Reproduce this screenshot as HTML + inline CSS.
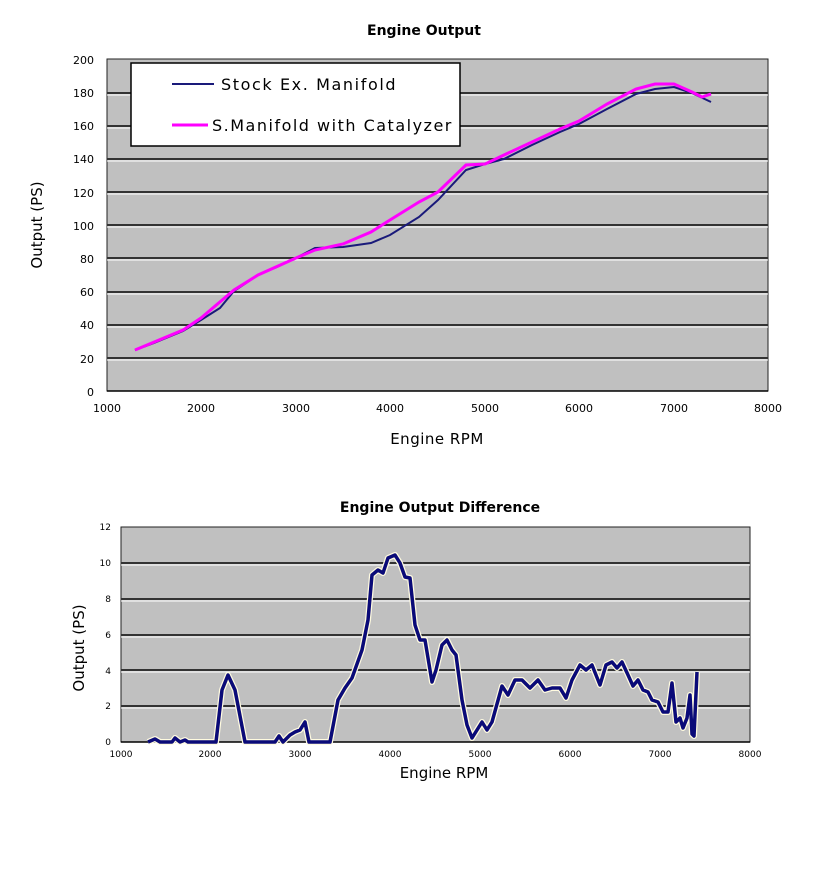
<!DOCTYPE html><html><head><style>body{margin:0;background:#fff}</style></head><body>
<svg width="815" height="876" xmlns="http://www.w3.org/2000/svg" font-family="DejaVu Sans, sans-serif">
<rect width="815" height="876" fill="#fff"/>
<text x="424" y="35" font-size="14" font-weight="bold" text-anchor="middle">Engine Output</text>
<rect x="107" y="59" width="661" height="332" fill="#c0c0c0" stroke="#222" stroke-width="1"/>
<g stroke="#333" stroke-width="2">
<line x1="107" x2="768" y1="93" y2="93"/><line x1="107" x2="768" y1="126" y2="126"/><line x1="107" x2="768" y1="159" y2="159"/><line x1="107" x2="768" y1="192" y2="192"/><line x1="107" x2="768" y1="225" y2="225"/><line x1="107" x2="768" y1="258" y2="258"/><line x1="107" x2="768" y1="292" y2="292"/><line x1="107" x2="768" y1="325" y2="325"/><line x1="107" x2="768" y1="358" y2="358"/></g>
<g stroke="#fff" stroke-width="1"><line x1="107" x2="768" y1="95" y2="95"/><line x1="107" x2="768" y1="128" y2="128"/><line x1="107" x2="768" y1="161" y2="161"/><line x1="107" x2="768" y1="194" y2="194"/><line x1="107" x2="768" y1="227" y2="227"/><line x1="107" x2="768" y1="260" y2="260"/><line x1="107" x2="768" y1="294" y2="294"/><line x1="107" x2="768" y1="327" y2="327"/><line x1="107" x2="768" y1="360" y2="360"/></g>
<line x1="107" x2="768" y1="391" y2="391" stroke="#000" stroke-width="1.5"/>
<g font-size="11" text-anchor="end"><text x="94" y="64">200</text><text x="94" y="97">180</text><text x="94" y="130">160</text><text x="94" y="163">140</text><text x="94" y="197">120</text><text x="94" y="230">100</text><text x="94" y="263">80</text><text x="94" y="296">60</text><text x="94" y="329">40</text><text x="94" y="363">20</text><text x="94" y="396">0</text></g>
<g font-size="11" text-anchor="middle"><text x="107" y="412">1000</text><text x="201" y="412">2000</text><text x="296" y="412">3000</text><text x="390" y="412">4000</text><text x="485" y="412">5000</text><text x="579" y="412">6000</text><text x="674" y="412">7000</text><text x="768" y="412">8000</text></g>
<text x="437" y="444" font-size="15" text-anchor="middle" letter-spacing="0.5">Engine RPM</text>
<text transform="translate(42,225) rotate(-90)" font-size="15" text-anchor="middle">Output (PS)</text>
<polyline fill="none" stroke="#1a1a7a" stroke-width="2" points="135,350 154,343 183,331 201,320 220,308 234,291 258,275 277,267 296,258 315,248 343,247 371,243 390,235 419,217 438,200 466,170 485,164 504,159 532,145 560,132 579,124 607,109 636,94 655,89 674,87 692,93 711,102"/>
<polyline fill="none" stroke="#ff00ff" stroke-width="3" points="135,350 183,330 201,318 234,290 258,275 296,258 315,250 343,244 371,232 390,220 419,202 438,192 466,165 485,164 504,155 532,142 560,129 579,121 607,104 636,89 655,84 674,84 692,92 702,97 711,94"/>
<rect x="131" y="63" width="329" height="83" fill="#fff" stroke="#000" stroke-width="1.5"/>
<line x1="172" x2="214" y1="84" y2="84" stroke="#1a1a7a" stroke-width="2"/>
<text x="221" y="90" font-size="16" letter-spacing="1.6">Stock Ex. Manifold</text>
<line x1="172" x2="208" y1="125" y2="125" stroke="#ff00ff" stroke-width="3"/>
<text x="212" y="131" font-size="16" letter-spacing="1.5">S.Manifold with Catalyzer</text>

<text x="440" y="512" font-size="14" font-weight="bold" text-anchor="middle">Engine Output Difference</text>
<rect x="121" y="527" width="629" height="215" fill="#c0c0c0" stroke="#222"/>
<g stroke="#333" stroke-width="2"><line x1="121" x2="750" y1="563" y2="563"/><line x1="121" x2="750" y1="599" y2="599"/><line x1="121" x2="750" y1="635" y2="635"/><line x1="121" x2="750" y1="670" y2="670"/><line x1="121" x2="750" y1="706" y2="706"/></g>
<g stroke="#fff" stroke-width="1"><line x1="121" x2="750" y1="565" y2="565"/><line x1="121" x2="750" y1="601" y2="601"/><line x1="121" x2="750" y1="637" y2="637"/><line x1="121" x2="750" y1="672" y2="672"/><line x1="121" x2="750" y1="708" y2="708"/></g>
<line x1="121" x2="750" y1="742" y2="742" stroke="#000" stroke-width="1.5"/>
<g font-size="9" text-anchor="end"><text x="111" y="530">12</text><text x="111" y="566">10</text><text x="111" y="602">8</text><text x="111" y="638">6</text><text x="111" y="674">4</text><text x="111" y="709">2</text><text x="111" y="745">0</text></g>
<g font-size="9" text-anchor="middle"><text x="121" y="757">1000</text><text x="210" y="757">2000</text><text x="300" y="757">3000</text><text x="390" y="757">4000</text><text x="480" y="757">5000</text><text x="570" y="757">6000</text><text x="660" y="757">7000</text><text x="750" y="757">8000</text></g>
<text x="444" y="778" font-size="15" text-anchor="middle">Engine RPM</text>
<text transform="translate(84,648) rotate(-90)" font-size="15" text-anchor="middle">Output (PS)</text>
<polyline fill="none" stroke="#fffbe0" stroke-width="6" stroke-linejoin="round" points="148,742 155,739 160,742 172,742 175,738 180,742 185,740 188,742 216,742 222,690 228,675 235,690 245,742 275,742 279,736 283,742 290,735 295,732 300,730 305,722 309,742 330,742 338,700 345,688 352,678 362,650 368,620 372,575 378,570 383,573 388,558 395,555 400,563 405,577 410,578 415,625 420,640 425,640 432,682 436,670 442,645 447,640 452,650 456,655 462,700 467,725 472,738 477,730 482,722 487,730 492,722 502,686 508,695 515,680 522,680 530,688 538,680 545,690 552,688 560,688 566,698 572,680 580,665 586,670 592,665 600,685 606,665 612,662 617,668 622,662 628,675 633,686 638,680 643,690 648,692 652,700 658,702 663,712 668,712 672,683 676,722 680,718 683,728 687,718 690,695 692,734 694,736 697,672"/>
<polyline fill="none" stroke="#0a0a78" stroke-width="3.5" stroke-linejoin="round" points="148,742 155,739 160,742 172,742 175,738 180,742 185,740 188,742 216,742 222,690 228,675 235,690 245,742 275,742 279,736 283,742 290,735 295,732 300,730 305,722 309,742 330,742 338,700 345,688 352,678 362,650 368,620 372,575 378,570 383,573 388,558 395,555 400,563 405,577 410,578 415,625 420,640 425,640 432,682 436,670 442,645 447,640 452,650 456,655 462,700 467,725 472,738 477,730 482,722 487,730 492,722 502,686 508,695 515,680 522,680 530,688 538,680 545,690 552,688 560,688 566,698 572,680 580,665 586,670 592,665 600,685 606,665 612,662 617,668 622,662 628,675 633,686 638,680 643,690 648,692 652,700 658,702 663,712 668,712 672,683 676,722 680,718 683,728 687,718 690,695 692,734 694,736 697,672"/>
</svg></body></html>
